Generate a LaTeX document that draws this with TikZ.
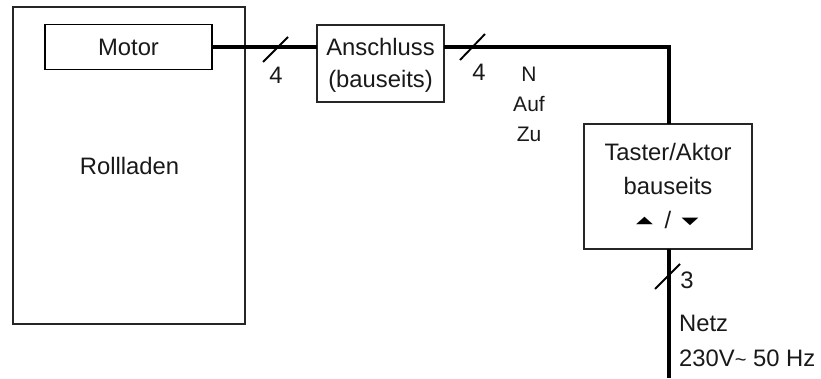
\documentclass[tikz,border=0pt]{standalone}
\usepackage{fontspec}
\usepackage{graphicx}
\setmainfont{Liberation Sans}
\newfontfamily\symfont{DejaVu Sans}
\newcommand{\bigtxt}{\fontsize{23.8}{28}\selectfont}
\newcommand{\smalltxt}{\fontsize{21}{24}\selectfont}
\newcommand{\trisym}[1]{\scalebox{1}[.45]{\symfont\fontsize{22}{24}\selectfont #1}}
\begin{document}
\begin{tikzpicture}[x=1pt,y=-1pt,
  boxed/.style={draw=black!85,line width=1.5pt,minimum width=#1,inner sep=0pt,outer sep=0pt},
  wire/.style={line width=3.6pt,black},
  tick/.style={line width=1.9pt,black},
  big/.style={font=\bigtxt,inner sep=0pt,text=black!90},
  small/.style={font=\smalltxt,inner sep=0pt,text=black!90}]
\useasboundingbox (0,0) rectangle (821,378);
\node[boxed=232pt,minimum height=317pt] (roll) at (129,165.5) {};
\node[big] (rolltxt) at (129.5,166) {Rollladen};
\node[boxed=167pt,minimum height=45pt,big,draw=black,fill=white] (motor) at (128.5,47) {Motor};
\node[boxed=127pt,minimum height=77pt] (ans) at (380.5,63.5) {};
\node[big] (ans1) at (380.5,47) {Anschluss};
\node[big] (ans2) at (380.5,81) {(bauseits)};
\node[boxed=168pt,minimum height=125pt] (tast) at (668,186.5) {};
\node[big] (t1) at (668,152) {Taster/Aktor};
\node[big] (t2) at (668,186) {bauseits};
\node[big] (tslash) at (668,220) {/};
\node[inner sep=0pt] (tup) at (644.5,220.5) {\trisym{▲}};
\node[inner sep=0pt] (tdown) at (690,221.5) {\trisym{▼}};
\coordinate (corner) at (669,47);
\coordinate (netz) at (669,378);
\draw[wire] (motor.east) -- (ans.west |- motor.east);
\draw[wire] (ans.east |- corner) -- (corner) -- (tast.north -| corner);
\draw[wire] (tast.south -| corner) -- (netz);
\coordinate (a1) at (263,62); \coordinate (a2) at (288,37);
\coordinate (b1) at (460,60); \coordinate (b2) at (485,34);
\coordinate (c1) at (655,289); \coordinate (c2) at (680,264);
\draw[tick] (a1) -- (a2);
\draw[tick] (b1) -- (b2);
\draw[tick] (c1) -- (c2);
\node[big] (n4a) at (276,75) {4};
\node[big] (n4b) at (479,72) {4};
\node[big] (n3) at (687,280) {3};
\node[small] (nN) at (529,74) {N};
\node[small] (nAuf) at (529,104) {Auf};
\node[small] (nZu) at (529,134) {Zu};
\node[big,anchor=base west] (netz1) at (679,331) {Netz};
\node[big,anchor=base west] (netz2) at (679,366) {230V\raisebox{0pt}{\fontsize{20}{20}\selectfont\textasciitilde} 50 Hz};
\end{tikzpicture}
\end{document}
